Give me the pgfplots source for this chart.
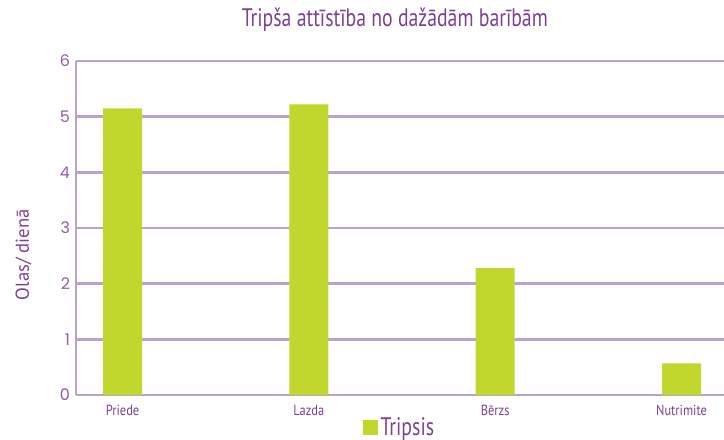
\documentclass[border=0pt]{standalone}
\usepackage{fontspec}
\setmainfont{PT Sans}
\newfontfamily\condfont[FakeStretch=0.78]{PT Sans}
\newfontfamily\labfont[FakeStretch=0.85]{PT Sans}
\newfontfamily\numfont{Poppins}
\usepackage{pgfplots}
\pgfplotsset{compat=1.18}
\definecolor{purp}{HTML}{7F3F98}
\definecolor{lav}{HTML}{B9A3CE}
\definecolor{barc}{HTML}{C1D72E}
\begin{document}
\begin{tikzpicture}
\useasboundingbox (-57pt,-33pt) rectangle (486pt,296.25pt);
\begin{axis}[
  at={(0,0)}, anchor=south west,
  scale only axis,
  width=486pt, height=250.5pt,
  ybar, bar width=29.25pt,
  xmin=-0.25, xmax=3.228,
  ymin=0, ymax=6,
  ytick={0,1,2,3,4,5,6},
  xtick=data,
  xticklabels={Priede,Lazda,B\={e}rzs,Nutrimite},
  axis x line*=bottom, axis y line*=left,
  axis line style={draw=lav, line width=2pt, -},
  ymajorgrids, major grid style={draw=lav, line width=2pt},
  major tick length=0pt,
  tick style={draw=none},
  yticklabel style={font=\numfont\fontsize{12}{12}\selectfont\color{purp!85}, anchor=east, xshift=-1pt},
  /pgf/number format/assume math mode=true,
  xticklabel style={font=\labfont\fontsize{11}{11}\selectfont\color{purp}, anchor=north, yshift=-4pt},
  ylabel={Olas/ dien\={a}},
  ylabel style={font=\fontsize{14}{14}\selectfont\color{purp}, at={(axis description cs:-0.081,0.42)}, anchor=center, rotate=0},
  title={Trip\v{s}a att\={\i}st\={\i}ba no da\v{z}\={a}d\={a}m bar\={\i}b\={a}m},
  title style={font=\condfont\fontsize{19}{19}\selectfont\color{purp}, at={(axis description cs:0.492,1.099)}, anchor=center},
  legend style={draw=none, fill=none, at={(axis description cs:0.5,-0.097)}, anchor=center, font=\condfont\fontsize{19}{19}\selectfont\color{purp}, inner sep=0pt},
  legend image code/.code={\fill[barc] (0pt,-5.5pt) rectangle (11pt,5.5pt);},
]
\addplot[fill=barc, draw=none] coordinates {(0,5.15) (1,5.22) (2,2.28) (3,0.57)};
\addlegendentry{Tripsis}
\end{axis}
\end{tikzpicture}
\end{document}
